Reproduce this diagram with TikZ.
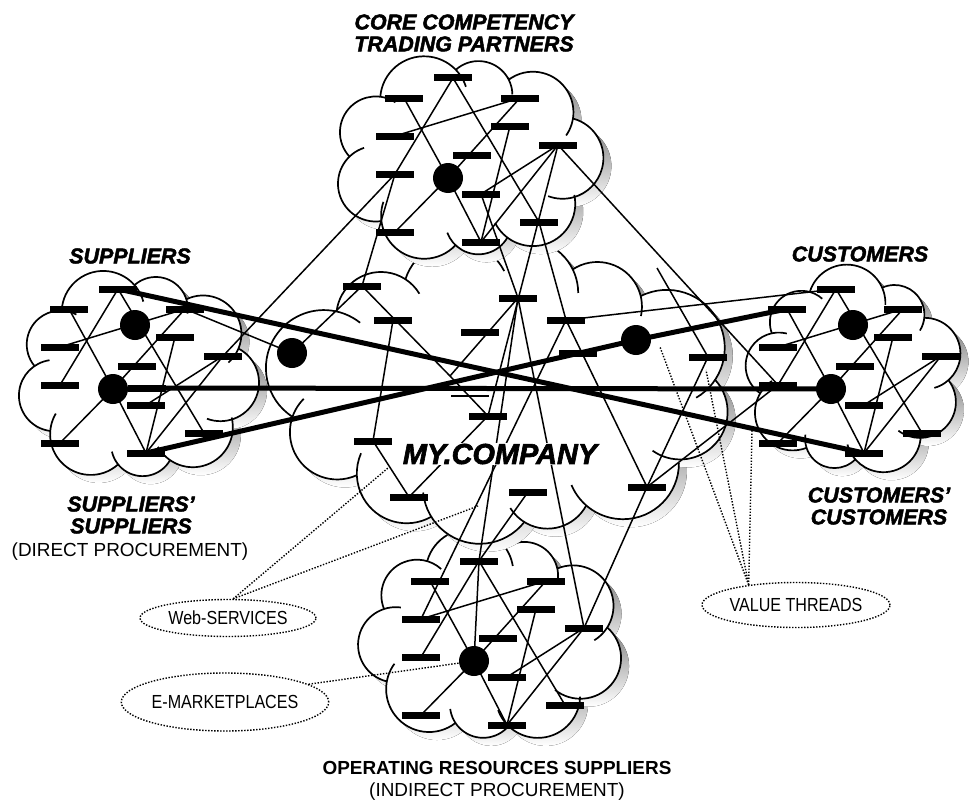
\documentclass[tikz,border=0pt]{standalone}
\usepackage{fontspec}
\setmainfont{Liberation Sans}
\newfontfamily\narrowfont[FakeStretch=0.85]{Liberation Sans}
\newfontfamily\heavyfont[FakeBold=2.2]{Liberation Sans}
\usetikzlibrary{shapes.geometric}
\pgfdeclarelayer{linklayer}
\pgfdeclarelayer{toplayer}
\pgfsetlayers{main,linklayer,toplayer}

\definecolor{shade}{gray}{0.5}

\tikzset{
  cloudline/.style={line width=1.7bp},
  bar/.style={fill=black, inner sep=0pt, minimum width=38bp, minimum height=7bp},
  flatbar/.style={bar, minimum height=2bp},
  hub/.style={circle, fill=black, inner sep=0pt, minimum size=30bp},
  link/.style={line width=1.5bp},
  trunk/.style={line width=5bp},
  thread/.style={line width=1.4bp, dash pattern=on 1.4bp off 1.6bp},
  note/.style={ellipse, draw, thread, inner sep=0pt,
    font=\narrowfont\fontsize{19}{19}\selectfont},
  heading/.style={font=\heavyfont\bfseries\itshape\fontsize{21.5}{22}\selectfont,
    align=center, inner sep=0.5bp},
  plain/.style={font=\fontsize{19}{22}\selectfont, align=center, inner sep=0.5bp}
}

% puff number #1 of the current cloud -> \qx, \qy, \qr
\newcommand{\puffpoint}[1]{%
  \pgfmathsetmacro\qt{\cPh+360*(#1)/\cN}%
  \pgfmathsetmacro\qph{\qt+\cK*sin(2*\qt)}%
  \pgfmathsetmacro\qx{\cX+\cA*cos(\qph)}%
  \pgfmathsetmacro\qy{\cY+\cB*sin(\qph)}%
  \pgfmathsetmacro\qr{\cR*(1+0.14*sin(137.5*(#1)))}%
}
\newcommand{\cloudstep}[3]{%
  \pgfmathsetmacro\cA{#1/2-\cR}%
  \pgfmathsetmacro\cB{#2/2-\cR}%
  \pgfmathsetmacro\ch{((\cA-\cB)/(\cA+\cB))^2}%
  \pgfmathsetmacro\cR{0.68*pi*(\cA+\cB)*(1+3*\ch/(10+sqrt(4-3*\ch)))/#3}%
}
% clip-art cloud with shadow: x, y, width, height, puffs, phase
\newcommand{\clipcloud}[6]{%
  \def\cX{#1}\def\cY{#2}\def\cN{#5}\def\cPh{#6}%
  \pgfmathsetmacro\cR{#3/8}%
  \cloudstep{#3}{#4}{#5}\cloudstep{#3}{#4}{#5}\cloudstep{#3}{#4}{#5}%
  \cloudstep{#3}{#4}{#5}\cloudstep{#3}{#4}{#5}%
  \pgfmathsetmacro\cK{(\cA-\cB)/(2*(\cA+\cB))*180/pi}%
  \foreach \sh/\col in {8/shade, 0/white} {
    \fill[\col, shift={(\sh,\sh)}] (\cX,\cY) ellipse [x radius=\cA, y radius=\cB];
    \foreach \k in {1,...,#5} {
      \puffpoint{\k}
      \fill[\col, shift={(\sh,\sh)}] (\qx,\qy) circle [radius=\qr];
    }
  }
  \foreach \k in {1,...,#5} {
    \puffpoint{\k-1}\let\px\qx\let\py\qy\let\pr\qr
    \puffpoint{\k+1}\let\nx\qx\let\ny\qy\let\nr\qr
    \puffpoint{\k}
    \pgfmathsetmacro\dp{veclen(\px-\qx,\py-\qy)}
    \pgfmathsetmacro\sa{atan2(\py-\qy,\px-\qx)+acos((\qr*\qr+\dp*\dp-\pr*\pr)/(2*\qr*\dp))}
    \pgfmathsetmacro\dn{veclen(\nx-\qx,\ny-\qy)}
    \pgfmathsetmacro\ea{atan2(\ny-\qy,\nx-\qx)-acos((\qr*\qr+\dn*\dn-\nr*\nr)/(2*\qr*\dn))}
    \pgfmathsetmacro\ea{\ea<\sa ? \ea+360 : \ea}
    \pgfmathsetmacro\ea{\ea<\sa ? \ea+360 : \ea}
    \draw[cloudline] (\qx,\qy) ++(\sa:\qr) arc[start angle=\sa, end angle=\ea+26, radius=\qr];
  }
}

% one trading-partner network, placed round its hub #2,#3
\newcommand{\netcluster}[3]{%
  \begin{pgfonlayer}{toplayer}
    \foreach \n/\dx/\dy in {1/5/-100, 2/-44/-80, 3/72/-80, 4/62/-52, 5/-53/-42,
        6/24/-23, 7/110/-33, 8/-53/-4, 9/33/16, 10/91/44, 11/-53/54, 12/33/64}
      \node[bar] (#1\n) at (#2+\dx, #3+\dy) {};
    \node[hub] (#1D) at (#2, #3) {};
  \end{pgfonlayer}
  \begin{pgfonlayer}{linklayer}
    \foreach \a/\b in {1/8, 1/10, 2/D, D/12, 3/5, 3/D, 4/12, 7/9, 7/12, D/11}
      \draw[link] (#1\a.center) -- (#1\b.center);
  \end{pgfonlayer}
}

\begin{document}
\begin{tikzpicture}[x=1bp, y=-1bp]
  \useasboundingbox (0,0) rectangle (969,801);

  % clouds
  \clipcloud{490}{638}{266}{210}{9}{15}
  \clipcloud{136}{376}{242}{210}{9}{5}
  \clipcloud{853}{372}{216}{205}{9}{25}
  \clipcloud{502}{390}{468}{298}{12}{10}
  \clipcloud{465}{158}{272}{204}{9}{0}

  % networks in the outer clouds
  \netcluster{t}{448}{178}
  \netcluster{l}{113}{389}
  \netcluster{r}{831}{389}
  \netcluster{b}{474}{661}

  \begin{pgfonlayer}{toplayer}
  \node[hub] (lA) at (135,325) {};
  \node[hub] (rA) at (853,325) {};
  \node[bar] (lx) at (147,388) {};

  % my company
  \node[bar] (c1) at (362,286) {};
  \node[bar] (c2) at (393,320) {};
  \node[bar] (c3) at (480,332) {};
  \node[bar] (c4) at (518,298) {};
  \node[bar] (c5) at (566,320) {};
  \node[bar] (c6) at (578,353) {};
  \node[bar] (c7) at (708,357) {};
  \node[flatbar] (c8) at (470,396) {};
  \node[bar] (c9) at (488,416) {};
  \node[bar] (c10) at (373,441) {};
  \node[bar] (c11) at (409,497) {};
  \node[bar] (c12) at (528,492) {};
  \node[bar] (c13) at (647,487) {};
  \node[hub] (cL) at (292,353) {};
  \node[hub] (cR) at (636,340) {};
  \coordinate (vee) at (450,376);
  \coordinate (c7in) at (657,268);

  % labels
  \node[heading] (coretxt) at (464,33) {CORE COMPETENCY\\TRADING PARTNERS};
  \node[heading] (suptxt) at (130,256) {SUPPLIERS};
  \node[heading] (custxt) at (860,254) {CUSTOMERS};
  \node[heading] (supsuptxt) at (131,515) {SUPPLIERS’\\SUPPLIERS};
  \node[plain] (directtxt) at (130,552) {(DIRECT PROCUREMENT)};
  \node[heading] (cuscustxt) at (879,506) {CUSTOMERS’\\CUSTOMERS};
  \node[heading, fill=white, inner sep=1bp,
    font=\heavyfont\bfseries\itshape\fontsize{29}{30}\selectfont]
    (mytxt) at (500,454) {MY.COMPANY};
  \node[plain, font=\bfseries\fontsize{19}{22}\selectfont] (opstxt) at (497,768)
    {OPERATING RESOURCES SUPPLIERS};
  \node[plain] (indirecttxt) at (497,792) {(INDIRECT PROCUREMENT)};

  \node[note, minimum width=176bp, minimum height=37bp] (webserv) at (228,618) {Web-SERVICES};
  \node[note, minimum width=200bp, minimum height=58bp] (emarket) at (225,702) {E-MARKETPLACES};
  \node[note, minimum width=184bp, minimum height=45bp] (valthr) at (796,605) {VALUE THREADS};
  \coordinate (ws1) at (388,468);
  \coordinate (ws2) at (478,506);
  \coordinate (vt1) at (660,347);
  \coordinate (vt2) at (706,370);
  \coordinate (vt3) at (752,431);
  \end{pgfonlayer}

  \begin{pgfonlayer}{linklayer}
    \foreach \a/\b in {l7/t8, t8/c1, c1/cL, c1/vee, c4/vee, vee/c9, l3/cL, c2/c10,
        t9/c4, t10/c5, c5/c13, t7/c9, t7/r8, c7in/c7, c7/c13, c5/r1, c4/b1, c4/b7,
        c5/b5, c13/b7, c13/r8, c10/c11, c9/c11, c12/b1, b1/bD}
      \draw[link] (\a.center) -- (\b.center);
    % value threads across the company
    \draw[trunk] (l1.center) -- (r12.center);
    \draw[trunk] (lx.center) -- (rD.center);
    \draw[trunk] (l12.center) -- (cR.center) -- (r2.center);
    % callouts
    \draw[thread] (webserv.75) -- (ws1);
    \draw[thread] (webserv.75) -- (ws2);
    \draw[thread] (emarket.12) -- (bD);
    \foreach \p in {vt1, vt2, vt3}
      \draw[thread] (valthr.157) -- (\p);
  \end{pgfonlayer}
\end{tikzpicture}
\end{document}
